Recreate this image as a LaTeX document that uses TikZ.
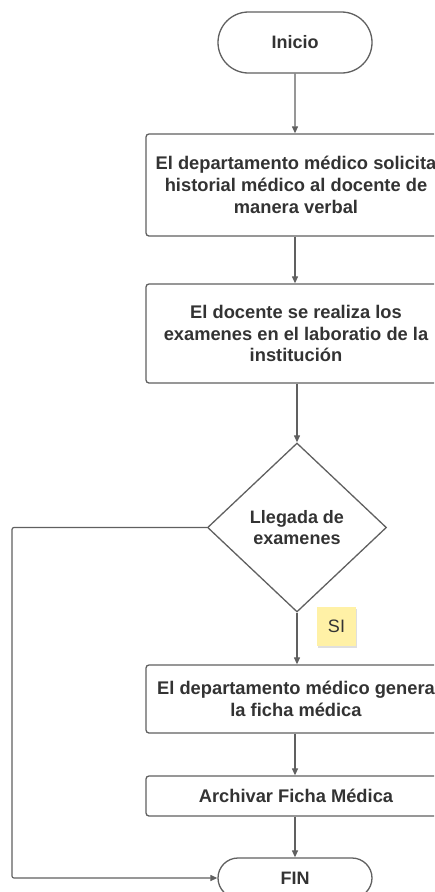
\documentclass[tikz,border=0pt]{standalone}
\usepackage{fontspec}
\setmainfont{Liberation Sans}
\usetikzlibrary{shapes.geometric,shapes.misc,arrows.meta,shadows}
\definecolor{ln}{HTML}{606060}
\definecolor{tx}{HTML}{333333}
\definecolor{note}{HTML}{FFF1A6}
\begin{document}
\begin{tikzpicture}[x=1pt,y=-1pt,
  every node/.style={text=tx},
  stepbox/.style={draw=ln, line width=1.3pt, rounded corners=3pt, fill=white, minimum width=300pt, align=center, font=\bfseries\fontsize{18.3}{21.8}\selectfont, inner sep=0pt},
  term/.style={draw=ln, line width=1.3pt, rounded rectangle, minimum width=154pt, inner sep=0pt, font=\bfseries\fontsize{18}{20}\selectfont},
  dec/.style={draw=ln, line width=1.3pt, diamond, minimum width=179pt, minimum height=169pt, inner sep=0pt, align=center, font=\bfseries\fontsize{18}{21.8}\selectfont},
  arr/.style={draw=ln, line width=1.2pt, -{Triangle[length=7pt,width=6pt]}},
  notebox/.style={fill=note, minimum width=39pt, minimum height=39pt, inner sep=0pt, font=\fontsize{18}{20}\selectfont, drop shadow={opacity=0.25, shadow xshift=1pt, shadow yshift=-1.5pt}}
]
\useasboundingbox (0,0) rectangle (434,892);
\clip (0,0) rectangle (434,892);
\node[term, minimum height=61pt] (ini) at (295,42.5) {Inicio};
\node[stepbox, minimum height=102pt] (b1) at (296,185) {El departamento médico solicita\\historial médico al docente de\\manera verbal};
\node[stepbox, minimum height=99pt] (b2) at (296,333.5) {El docente se realiza los\\examenes en el laboratio de la\\institución};
\node[dec] (d) at (297,527.5) {Llegada de\\examenes};
\node[stepbox, minimum height=68pt] (b3) at (296,699) {El departamento médico genera\\la ficha médica};
\node[stepbox, minimum height=40pt] (b4) at (296,796) {Archivar Ficha Médica};
\node[term, minimum height=40pt] (fin) at (295,878) {FIN};
\node[notebox] (si) at (336.5,626.5) {SI};
\coordinate (lc) at (12,527.5);
\draw[arr] (ini) -- (ini.south |- b1.north);
\draw[arr] (b1.south -| ini) -- (ini |- b2.north);
\draw[arr] (b2.south -| d) -- (d.north);
\draw[arr] (d.south) -- (d.south |- b3.north);
\draw[arr] (b3.south -| ini) -- (ini |- b4.north);
\draw[arr] (b4.south -| ini) -- (fin.north);
\draw[arr, rounded corners=2pt] (d.west) -- (lc) |- (fin.west);
\end{tikzpicture}
\end{document}
